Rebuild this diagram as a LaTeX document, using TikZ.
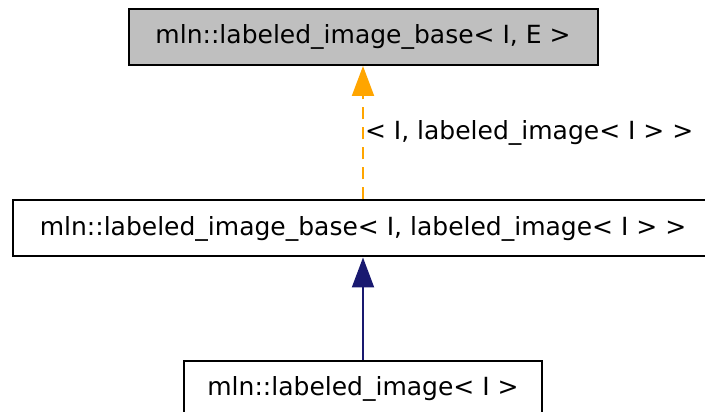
\documentclass[tikz,border=0pt]{standalone}
\usepackage{fontspec}
\setmainfont{DejaVu Sans}
\usepackage{xcolor}
\usetikzlibrary{arrows.meta, positioning}
\definecolor{basegray}{RGB}{191, 191, 191}
\definecolor{inhnavy}{RGB}{25, 25, 112}
\definecolor{tmplorange}{RGB}{255, 165, 0}

\begin{document}
\begin{tikzpicture}[x=1pt, y=1pt, >={Triangle[length=30pt, width=22pt]},
  cls/.style={draw, line width=2pt, minimum height=56pt, inner sep=0pt, font=\fontsize{25}{30}\selectfont}]
  \clip (0,0) rectangle (705,412);
  \node[cls, fill=basegray, minimum width=469pt] (base) at (363,375) {mln::labeled\_image\_base< I, E >};
  \node[cls, minimum width=700pt] (mid) at (363,183.5) {mln::labeled\_image\_base< I, labeled\_image< I > >};
  \node[cls, minimum width=358pt] (leaf) at (363,23) {mln::labeled\_image< I >};
  % template instance
  \draw[->, tmplorange, line width=2pt, dash pattern=on 12pt off 8pt] (mid.north) -- (base.south)
    node[midway, right, inner sep=1pt, text=black, font=\fontsize{25}{30}\selectfont] (arg) {< I, labeled\_image< I > >};
  % public inheritance
  \draw[->, inhnavy, line width=2pt] (leaf.north) -- (mid.south);
\end{tikzpicture}
\end{document}
